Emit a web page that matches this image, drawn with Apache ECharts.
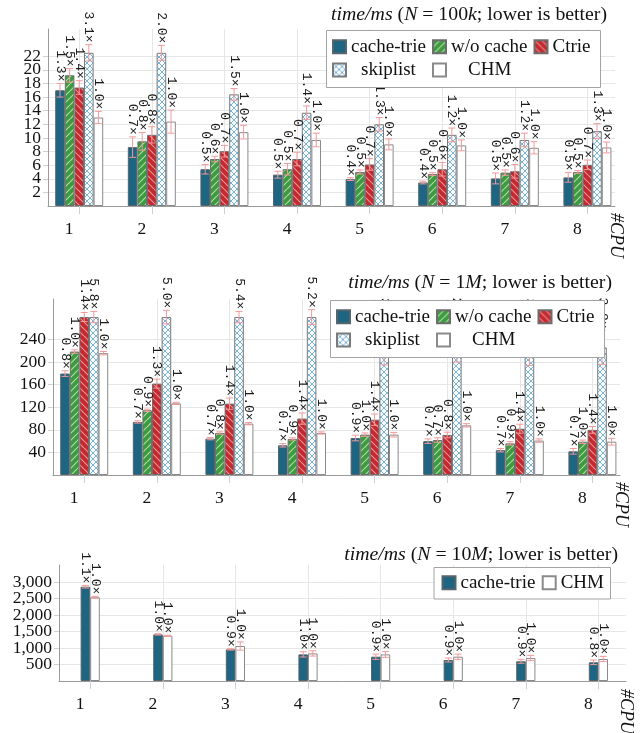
<!DOCTYPE html>
<html><head><meta charset="utf-8">
<script src="https://cdn.jsdelivr.net/npm/echarts@6/dist/echarts.min.js"></script>
<style>html,body{margin:0;padding:0;background:#fff}#c{width:640px;height:733px}</style>
</head><body><div id="c"></div>
<script>
// ---------------- data ----------------
const cpus = [1, 2, 3, 4, 5, 6, 7, 8];

// Panel 1: N = 100k (time in ms)
const p1_cacheTrie = [17.0, 8.65, 5.4, 4.6, 3.95, 3.45, 4.05, 4.2];
const p1_woCache   = [19.2, 9.5, 6.9, 5.4, 5.0, 4.7, 4.9, 5.0];
const p1_ctrie     = [17.4, 10.45, 8.05, 6.9, 6.1, 5.4, 5.1, 6.05];
const p1_skiplist  = [40.3, 24.8, 16.4, 13.7, 12.0, 10.45, 9.7, 11.0];
const p1_chm       = [13.0, 12.4, 10.85, 9.7, 9.05, 8.9, 8.55, 8.6];
const p1_err_cacheTrie = [1.0, 1.5, 0.7, 0.5, 0.2, 0.2, 0.8, 0.7];
const p1_err_woCache   = [1.0, 1.3, 0.4, 0.85, 0.3, 0.2, 0.4, 0.2];
const p1_err_ctrie     = [1.0, 1.2, 0.85, 1.0, 0.85, 1.0, 1.0, 0.7];
const p1_err_skiplist  = [1.2, 1.1, 0.85, 1.0, 1.0, 1.0, 1.0, 1.1];
const p1_err_chm       = [0.9, 1.7, 1.0, 1.0, 0.8, 0.8, 0.9, 0.8];
const p1_lab_cacheTrie = ['1.3×','0.7×','0.5×','0.5×','0.4×','0.4×','0.5×','0.5×'];
const p1_lab_woCache   = ['1.5×','0.8×','0.6×','0.5×','0.5×','0.5×','0.5×','0.5×'];
const p1_lab_ctrie     = ['1.4×','0.8×','0.7×','0.7×','0.7×','0.6×','0.6×','0.7×'];
const p1_lab_skiplist  = ['3.1×','2.0×','1.5×','1.4×','1.3×','1.2×','1.2×','1.3×'];
const p1_lab_chm       = ['1.0×','1.0×','1.0×','1.0×','1.0×','1.0×','1.0×','1.0×'];
const p1_yTicks = [2, 4, 6, 8, 10, 12, 14, 16, 18, 20, 22];

// Panel 2: N = 1M
const p2_cacheTrie = [179.8, 94, 64.4, 52.6, 65.6, 60, 44, 42];
const p2_woCache   = [218.8, 114.7, 74.5, 63.9, 71.5, 62, 56, 59];
const p2_ctrie     = [300, 162, 126.5, 100, 98, 71, 82, 80];
const p2_skiplist  = [1241, 635, 491, 387, 225, 228, 224, 226];
const p2_chm       = [216, 127, 91, 74.5, 71.5, 88, 61, 59];
const p2_err_cacheTrie = [5, 2, 2, 3, 5, 4, 3, 5];
const p2_err_woCache   = [3, 2, 2, 2, 3, 4, 3, 3];
const p2_err_ctrie     = [8, 8, 10, 10, 10, 5, 8, 6];
const p2_err_skiplist  = [10, 12, 10, 13, 30, 28, 30, 30];
const p2_err_chm       = [3, 2, 2, 2, 4, 3, 3, 6];
const p2_lab_cacheTrie = ['0.8×','0.7×','0.7×','0.7×','0.9×','0.7×','0.7×','0.7×'];
const p2_lab_woCache   = ['1.0×','0.9×','0.8×','0.9×','1.0×','0.7×','0.9×','1.0×'];
const p2_lab_ctrie     = ['1.4×','1.3×','1.4×','1.4×','1.4×','0.8×','1.4×','1.4×'];
const p2_lab_skiplist  = ['5.8×','5.0×','5.4×','5.2×','3.1×','2.6×','3.7×','3.8×'];
const p2_lab_chm       = ['1.0×','1.0×','1.0×','1.0×','1.0×','1.0×','1.0×','1.0×'];
const p2_yTicks = [40, 80, 120, 160, 200, 240];

// Panel 3: N = 10M
const p3_cacheTrie = [2857, 1412, 958, 806, 736, 636, 597, 567];
const p3_chm       = [2536, 1371, 1060, 836, 806, 736, 697, 667];
const p3_err_cacheTrie = [40, 20, 20, 80, 80, 60, 60, 70];
const p3_err_chm       = [30, 15, 125, 80, 90, 80, 80, 80];
const p3_lab_cacheTrie = ['1.1×','1.0×','0.9×','1.0×','0.9×','0.9×','0.9×','0.8×'];
const p3_lab_chm       = ['1.0×','1.0×','1.0×','1.0×','1.0×','1.0×','1.0×','1.0×'];
const p3_yTicks = [500, 1000, 1500, 2000, 2500, 3000];

const titles = [
  '{i|time/ms} ({i|N} = 100{i|k}; lower is better)',
  '{i|time/ms} ({i|N} = 1{i|M}; lower is better)',
  '{i|time/ms} ({i|N} = 10{i|M}; lower is better)'
];

// ---------------- styles ----------------
function stripes(bg, line, dir) {
  const s = 7, c = document.createElement('canvas'); c.width = s; c.height = s;
  const g = c.getContext('2d'); g.fillStyle = bg; g.fillRect(0, 0, s, s);
  g.strokeStyle = line; g.lineWidth = 1.2; g.beginPath();
  for (let k = -s; k <= s; k += s) {
    if (dir > 0) { g.moveTo(k, s); g.lineTo(k + s, 0); }
    else { g.moveTo(k, 0); g.lineTo(k + s, s); }
  }
  g.stroke(); return c;
}
function hatch() {
  const s = 6, c = document.createElement('canvas'); c.width = s; c.height = s;
  const g = c.getContext('2d'); g.fillStyle = '#f7fbfd'; g.fillRect(0, 0, s, s);
  g.strokeStyle = '#7db4d4'; g.lineWidth = 1; g.beginPath();
  for (let k = -s; k <= s; k += s) { g.moveTo(k, s); g.lineTo(k + s, 0); g.moveTo(k, 0); g.lineTo(k + s, s); }
  g.stroke(); return c;
}
const styleOf = {
  'cache-trie': { color: '#1d6581', borderColor: '#56646c', borderWidth: 1 },
  'w/o cache': { color: { image: stripes('#3c9b3c', 'rgba(255,255,255,0.6)', 1), repeat: 'repeat' }, borderColor: '#6d6d6d', borderWidth: 1 },
  'Ctrie': { color: { image: stripes('#c5282e', 'rgba(255,255,255,0.5)', -1), repeat: 'repeat' }, borderColor: '#6d6d6d', borderWidth: 1 },
  'skiplist': { color: { image: hatch(), repeat: 'repeat' }, borderColor: '#7a7a7a', borderWidth: 1 },
  'CHM': { color: '#ffffff', borderColor: '#8a8a8a', borderWidth: 1 }
};
const SERIF = 'Liberation Serif';
const ERR = '#f29a9a';
const BW = 9.6;
const X_MIN = 0.57, X_MAX = 8.38;

const panels = [
  { grid: { left: 48, top: 29, width: 567, height: 177 }, yMax: 26, cap: 22.5, yTicks: p1_yTicks,
    titleRight: 33, titleTop: 4,
    box: [326, 30, 274, 57],
    legend: [['cache-trie', 332, 46.7, 0], ['w/o cache', 432, 46.7, 0], ['Ctrie', 533.5, 46.7, 0], ['skiplist', 332, 70, 10], ['CHM', 432, 70, 17]],
    cpu: [616, 213],
    series: [
      ['cache-trie', p1_cacheTrie, p1_err_cacheTrie, p1_lab_cacheTrie],
      ['w/o cache', p1_woCache, p1_err_woCache, p1_lab_woCache],
      ['Ctrie', p1_ctrie, p1_err_ctrie, p1_lab_ctrie],
      ['skiplist', p1_skiplist, p1_err_skiplist, p1_lab_skiplist],
      ['CHM', p1_chm, p1_err_chm, p1_lab_chm]
    ] },
  { grid: { left: 53, top: 299, width: 567, height: 176 }, yMax: 312, cap: 280, yTicks: p2_yTicks,
    titleRight: 28, titleTop: 272,
    box: [330, 300, 274, 57],
    legend: [['cache-trie', 336, 316.7, 0], ['w/o cache', 436, 316.7, 0], ['Ctrie', 537.5, 316.7, 0], ['skiplist', 336, 340, 10], ['CHM', 436, 340, 17]],
    cpu: [621, 482],
    series: [
      ['cache-trie', p2_cacheTrie, p2_err_cacheTrie, p2_lab_cacheTrie],
      ['w/o cache', p2_woCache, p2_err_woCache, p2_lab_woCache],
      ['Ctrie', p2_ctrie, p2_err_ctrie, p2_lab_ctrie],
      ['skiplist', p2_skiplist, p2_err_skiplist, p2_lab_skiplist],
      ['CHM', p2_chm, p2_err_chm, p2_lab_chm]
    ] },
  { grid: { left: 59, top: 565, width: 567, height: 116 }, yMax: 3515, cap: Infinity, yTicks: p3_yTicks,
    titleRight: 22, titleTop: 544,
    box: [433.5, 567, 176.5, 31.5],
    legend: [['cache-trie', 441.5, 582.7, 0], ['CHM', 541.7, 582.7, 0]],
    cpu: [626, 689],
    series: [
      ['cache-trie', p3_cacheTrie, p3_err_cacheTrie, p3_lab_cacheTrie],
      ['CHM', p3_chm, p3_err_chm, p3_lab_chm]
    ] }
];

function makeErr(offset, labels) {
  return function (params, api) {
    const x = api.value(0), y = api.value(1), e = api.value(2);
    const p0 = api.coord([x, y]);
    const cx = p0[0] + offset;
    const yt = api.coord([x, y + e])[1];
    const yb = api.coord([x, y - e])[1];
    const ls = { stroke: ERR, lineWidth: 1 };
    const ch = [];
    if (e > 0) {
      ch.push({ type: 'line', shape: { x1: cx, y1: yt, x2: cx, y2: yb }, style: ls });
      ch.push({ type: 'line', shape: { x1: cx - 3.5, y1: yt, x2: cx + 3.5, y2: yt }, style: ls });
      ch.push({ type: 'line', shape: { x1: cx - 3.5, y1: yb, x2: cx + 3.5, y2: yb }, style: ls });
    }
    ch.push({ type: 'text', x: cx, y: yt - 2, rotation: -Math.PI / 2,
      style: { text: labels[params.dataIndex], fontFamily: 'Liberation Mono', fontSize: 13, fill: '#1a1a1a', align: 'right', verticalAlign: 'middle' } });
    return { type: 'group', children: ch };
  };
}

function yAxisFor(pi, p, ticks, main) {
  return { type: 'value', gridIndex: pi, min: 0, max: p.yMax, position: 'left', offset: 0,
    axisLine: { show: main, lineStyle: { color: '#9a9a9a', width: 1 } },
    axisTick: { show: true, customValues: ticks, length: 5, lineStyle: { color: '#cfcfcf' } },
    axisLabel: { customValues: ticks, fontFamily: SERIF, fontSize: 17.5, color: '#111', margin: 7,
      showMinLabel: true, showMaxLabel: true, hideOverlap: false,
      formatter: v => v >= 1000 ? v.toLocaleString('en-US') : String(v) },
    splitLine: { show: true, lineStyle: { color: '#e6e6e6' } } };
}

const grids = [], xAxes = [], yAxes = [], series = [], legends = [], graphics = [], titleOpts = [];
panels.forEach((p, pi) => {
  grids.push(p.grid);
  xAxes.push({ type: 'value', gridIndex: pi, min: X_MIN, max: X_MAX,
    axisLine: { show: true, onZero: false, lineStyle: { color: '#9a9a9a', width: 1 } },
    axisTick: { show: true, customValues: cpus, length: 8, inside: false, lineStyle: { color: '#cfcfcf' } },
    axisLabel: { customValues: cpus, fontFamily: SERIF, fontSize: 17.5, color: '#111', margin: 14, padding: [0, 20, 0, 0],
      showMinLabel: true, showMaxLabel: true, hideOverlap: false },
    splitLine: { show: true, lineStyle: { color: '#e6e6e6' } } });
  // two overlaid y axes per grid: alternate tick labels split so none get auto-hidden
  yAxes.push(yAxisFor(pi, p, p.yTicks.filter((_, i) => i % 2 === 0), true));
  yAxes.push(yAxisFor(pi, p, p.yTicks.filter((_, i) => i % 2 === 1), false));
  const yIdx = pi * 2;
  const n = p.series.length;
  p.series.forEach((s, si) => {
    const [name, vals, errs, labs] = s;
    const disp = vals.map(v => Math.min(v, p.cap));
    series.push({ type: 'bar', name: name, xAxisIndex: pi, yAxisIndex: yIdx,
      data: cpus.map((c, k) => [c, disp[k]]), barWidth: BW, barGap: '0%',
      itemStyle: styleOf[name], silent: true, z: 2 });
    series.push({ type: 'custom', name: name + ' (err ' + pi + ')', xAxisIndex: pi, yAxisIndex: yIdx,
      data: cpus.map((c, k) => [c, disp[k], errs[k]]), renderItem: makeErr((si - (n - 1) / 2) * BW, labs),
      silent: true, z: 3 });
  });
  titleOpts.push({ text: titles[pi], right: p.titleRight, top: p.titleTop, padding: 0,
    textStyle: { fontFamily: SERIF, fontSize: 19.8, fontWeight: 'normal', color: '#111', lineHeight: 22,
      rich: { i: { fontFamily: SERIF, fontSize: 19.8, fontStyle: 'italic', color: '#111', lineHeight: 22 } } } });
  graphics.push({ type: 'rect', z: 50, shape: { x: p.box[0] + 0.5, y: p.box[1] + 0.5, width: p.box[2], height: p.box[3] },
    style: { fill: '#fff', stroke: '#a3a3a3', lineWidth: 1 } });
  graphics.push({ type: 'text', z: 50, x: p.cpu[0], y: p.cpu[1], rotation: -Math.PI / 2,
    style: { text: '#CPU', fontFamily: SERIF, fontSize: 18, fontStyle: 'italic', fill: '#111', align: 'left', verticalAlign: 'middle' } });
  p.legend.forEach(([name, lx, cy, pad]) => {
    legends.push({ data: [name], left: lx, top: cy - 10, padding: 0, itemWidth: 13, itemHeight: 13, icon: 'rect',
      selectedMode: false, z: 60,
      formatter: '{t|' + name + '}',
      textStyle: { fontFamily: SERIF, fontSize: 19, color: '#111', lineHeight: 20,
        rich: { t: { fontFamily: SERIF, fontSize: 19, color: '#111', lineHeight: 20, padding: [0, 0, 0, pad] } } } });
  });
});

const chart = echarts.init(document.getElementById('c'), null, { renderer: 'canvas' });
chart.setOption({
  animation: false,
  backgroundColor: '#ffffff',
  title: titleOpts,
  grid: grids,
  xAxis: xAxes,
  yAxis: yAxes,
  legend: legends,
  graphic: graphics,
  series: series
});
</script>
</body></html>
